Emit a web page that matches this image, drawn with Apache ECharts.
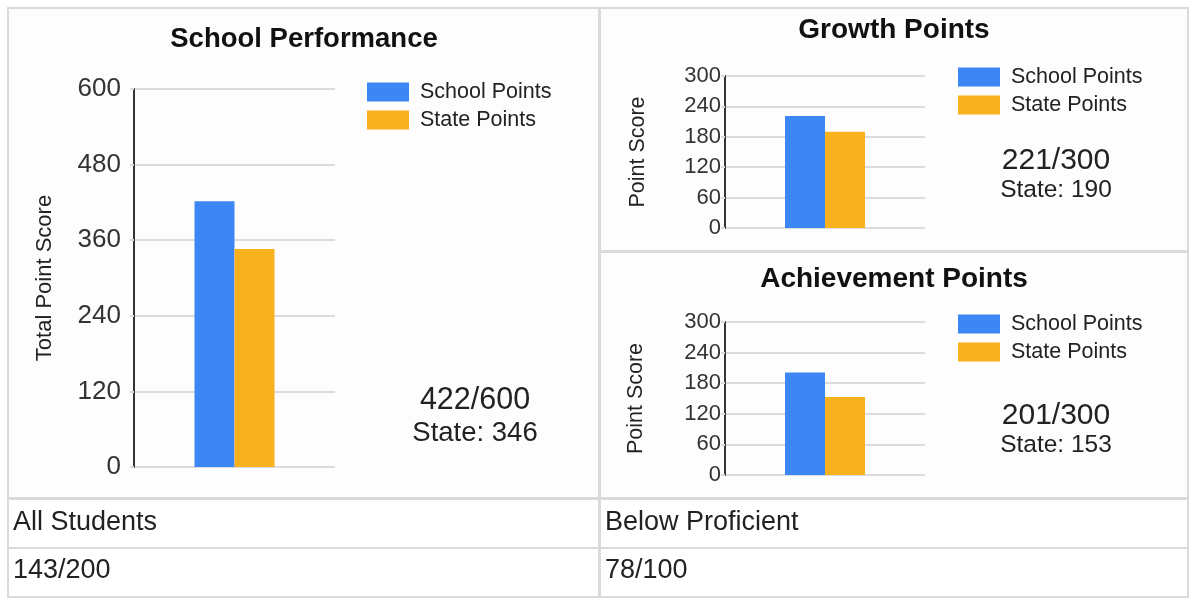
<!DOCTYPE html>
<html>
<head>
<meta charset="utf-8">
<script src="https://cdn.jsdelivr.net/npm/echarts@6/dist/echarts.min.js"></script>
<style>
html,body{margin:0;padding:0;background:#fff;}
#chart{width:1190px;height:602px;}
</style>
</head>
<body>
<div id="chart"></div>
<script>
// ---- data ----
const panelTitles = ['School Performance', 'Growth Points', 'Achievement Points'];
const categories = [''];
const seriesNames = ['School Points', 'State Points'];
const schoolPoints = [422, 221, 201];
const statePoints = [346, 190, 153];
const maxPoints = [600, 300, 300];
const yIntervals = [120, 60, 60];
const yAxisNames = ['Total Point Score', 'Point Score', 'Point Score'];
const tableLabels = ['All Students', 'Below Proficient'];
const tableValues = ['143/200', '78/100'];

// ---- layout ----
const FONT = '"Liberation Sans", Arial, sans-serif';
const BLUE = '#3d87f5';
const ORANGE = '#f9b21e';
const grids = [
  {left: 134, top: 89, width: 201, height: 378},
  {left: 725, top: 76, width: 200, height: 152},
  {left: 725, top: 322, width: 200, height: 153}
];
const tickFont = [26, 22, 22];
const labelMargin = [13, 4, 4];
const nameFont = [22, 21.5, 21.5];
const nameGaps = [78, 76, 78];
const legendPos = [{left: 367, top: 81}, {left: 958, top: 66}, {left: 958, top: 313}];
const titlePos = [[304, 39, 27.5], [894, 30, 28], [894, 279, 28]];
const scorePos = [[475, 401, 433, 30.5, 27.5], [1056, 161, 190, 30, 24.5], [1056, 416, 445, 30, 24.5]];

const chart = echarts.init(document.getElementById('chart'), null, {renderer: 'canvas'});

const xAxis = [], yAxis = [], series = [], legend = [];
for (let i = 0; i < 3; i++) {
  xAxis.push({
    type: 'category', gridIndex: i, data: categories,
    axisLine: {show: false}, axisTick: {show: false}, axisLabel: {show: false}
  });
  yAxis.push({
    type: 'value', gridIndex: i, min: 0, max: maxPoints[i], interval: yIntervals[i],
    name: yAxisNames[i], nameLocation: 'middle', nameGap: nameGaps[i],
    nameTextStyle: {fontSize: nameFont[i], color: '#222', fontFamily: FONT},
    axisLine: {show: true, lineStyle: {color: '#333', width: 2}},
    axisTick: {show: true, length: 4, lineStyle: {color: '#dcdcdc', width: 2}},
    axisLabel: {fontSize: tickFont[i], color: '#333', margin: labelMargin[i], fontFamily: FONT},
    splitLine: {show: true, lineStyle: {color: '#dcdcdc', width: 2}}
  });
  series.push({
    name: seriesNames[0], type: 'bar', xAxisIndex: i, yAxisIndex: i,
    data: [schoolPoints[i]], barWidth: 40, barGap: '0%', itemStyle: {color: BLUE}, z: 3
  });
  series.push({
    name: seriesNames[1], type: 'bar', xAxisIndex: i, yAxisIndex: i,
    data: [statePoints[i]], barWidth: 40, barGap: '0%', itemStyle: {color: ORANGE}, z: 3
  });
  legend.push({
    orient: 'vertical', left: legendPos[i].left, top: legendPos[i].top, padding: 0,
    data: seriesNames, icon: 'rect', itemWidth: 42, itemHeight: 19, itemGap: 6,
    selectedMode: false,
    textStyle: {fontSize: 21.5, lineHeight: 19, color: '#222', fontFamily: FONT, padding: [0, 0, 0, 6]}
  });
}

const graphic = [];
// panels
const panels = [
  [8, 8, 591, 490, '#fdfdfd'],
  [600, 8, 588, 243, '#fdfdfd'],
  [600, 252, 588, 246, '#fdfdfd'],
  [8, 499, 591, 49, '#ffffff'],
  [8, 548, 591, 49, '#ffffff'],
  [600, 499, 588, 49, '#ffffff'],
  [600, 548, 588, 49, '#ffffff']
];
panels.forEach(p => graphic.push({
  type: 'rect', z: -10, shape: {x: p[0], y: p[1], width: p[2], height: p[3]},
  style: {fill: p[4], stroke: '#dadada', lineWidth: 2}
}));
// titles and scores
for (let i = 0; i < 3; i++) {
  graphic.push({
    type: 'text', x: titlePos[i][0], y: titlePos[i][1], z: 50,
    style: {text: panelTitles[i], fill: '#111', font: 'bold ' + titlePos[i][2] + 'px ' + FONT,
      align: 'center', verticalAlign: 'middle'}
  });
  const s = scorePos[i];
  graphic.push({
    type: 'text', x: s[0], y: s[1], z: 50,
    style: {text: schoolPoints[i] + '/' + maxPoints[i], fill: '#222', font: s[3] + 'px ' + FONT,
      align: 'center', verticalAlign: 'middle'}
  });
  graphic.push({
    type: 'text', x: s[0], y: s[2], z: 50,
    style: {text: 'State: ' + statePoints[i], fill: '#222', font: s[4] + 'px ' + FONT,
      align: 'center', verticalAlign: 'middle'}
  });
}
// table
const tableX = [13, 605];
for (let j = 0; j < 2; j++) {
  graphic.push({
    type: 'text', x: tableX[j], y: 523, z: 50,
    style: {text: tableLabels[j], fill: '#222', font: '27px ' + FONT, align: 'left', verticalAlign: 'middle'}
  });
  graphic.push({
    type: 'text', x: tableX[j], y: 571, z: 50,
    style: {text: tableValues[j], fill: '#222', font: '27px ' + FONT, align: 'left', verticalAlign: 'middle'}
  });
}

chart.setOption({
  animation: false,
  backgroundColor: '#ffffff',
  textStyle: {fontFamily: FONT},
  grid: grids.map(g => Object.assign({containLabel: false}, g)),
  xAxis: xAxis,
  yAxis: yAxis,
  legend: legend,
  series: series,
  graphic: graphic
});
</script>
</body>
</html>
